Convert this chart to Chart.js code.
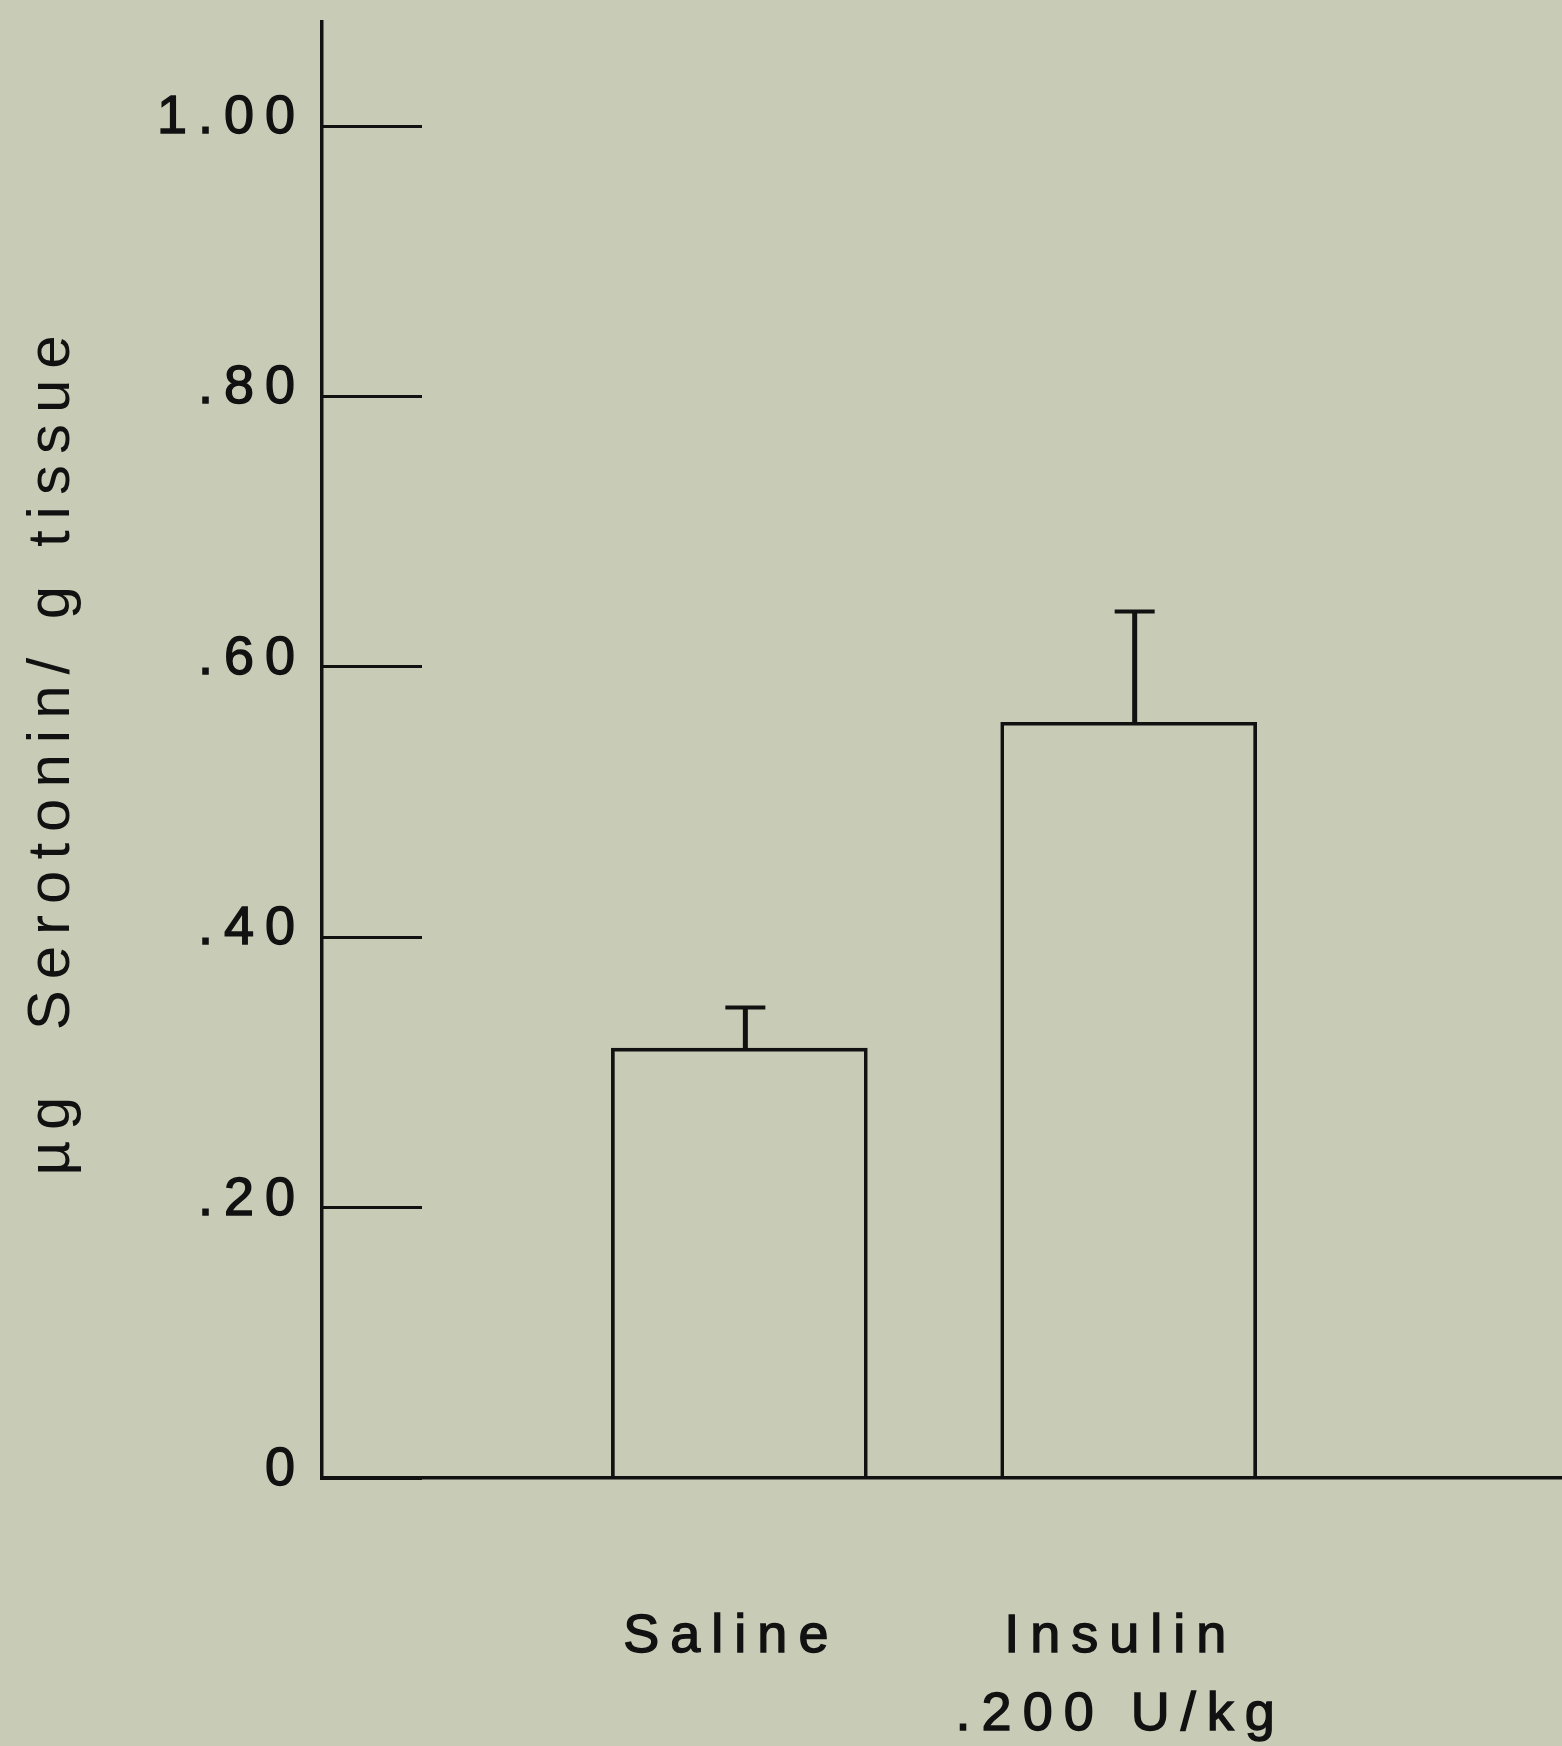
<!DOCTYPE html>
<html>
<head>
<meta charset="utf-8">
<title>Serotonin - Saline vs Insulin</title>
<script src="https://cdn.jsdelivr.net/npm/chart.js@4/dist/chart.umd.min.js"></script>
<style>
  html, body { margin: 0; padding: 0; background: #c8ccb6; }
  canvas { display: block; }
</style>
</head>
<body>
<canvas id="serotoninChart" width="1562" height="1746"></canvas>
<script>
// Dados
const groups = ['Saline', 'Insulin'];
const groupSubLabels = ['', '.200 U/kg'];
const groupPositions = [1, 2];
const meanValues = [0.318, 0.559];
const semValues = [0.030, 0.082];
const yTickValues = [0, 0.2, 0.4, 0.6, 0.8, 1.0];
const yTickLabels = ['0', '.20', '.40', '.60', '.80', '1.00'];
const yTitle = 'µg  Serotonin/ g tissue';

const ink = '#111111';
const fontFamily = "'Liberation Sans', Arial, Helvetica, sans-serif";

// espaçamento entre letras, como no original
const letterSpacingPlugin = {
  id: 'letterSpacing',
  beforeUpdate(chart) { chart.ctx.letterSpacing = '11px'; },
  beforeDraw(chart) { chart.ctx.letterSpacing = '11px'; }
};

// barras de erro (só para cima)
const errorBarPlugin = {
  id: 'errorBars',
  afterDatasetsDraw(chart) {
    const ctx = chart.ctx;
    const yScale = chart.scales.y;
    const meta = chart.getDatasetMeta(0);
    ctx.save();
    ctx.strokeStyle = ink;
    meta.data.forEach((bar, i) => {
      const yBar = yScale.getPixelForValue(meanValues[i]);
      const yTop = yScale.getPixelForValue(meanValues[i] + semValues[i]);
      ctx.lineWidth = 5;
      ctx.beginPath();
      ctx.moveTo(bar.x + 6, yBar);
      ctx.lineTo(bar.x + 6, yTop);
      ctx.stroke();
      ctx.lineWidth = 4;
      ctx.beginPath();
      ctx.moveTo(bar.x + 6 - 20, yTop);
      ctx.lineTo(bar.x + 6 + 20, yTop);
      ctx.stroke();
    });
    ctx.restore();
  }
};

function renderChart() {
  const ctx = document.getElementById('serotoninChart');

  new Chart(ctx, {
    type: 'bar',
    data: {
      datasets: [{
        data: groupPositions.map((x, i) => ({ x: x, y: meanValues[i] })),
        backgroundColor: 'rgba(0, 0, 0, 0)',
        borderColor: ink,
        borderWidth: 3,
        borderSkipped: 'bottom',
        barThickness: 256
      }]
    },
    options: {
      responsive: false,
      animation: false,
      devicePixelRatio: 1,
      layout: {
        padding: { top: 22, right: 0, bottom: 0, left: 0 }
      },
      plugins: {
        legend: { display: false },
        tooltip: { enabled: false }
      },
      scales: {
        x: {
          type: 'linear',
          offset: false,
          min: -0.072,
          max: 3.113,
          grid: { display: false },
          border: { display: true, color: ink, width: 3.5 },
          afterBuildTicks: (scale) => {
            scale.ticks = groupPositions.map(v => ({ value: v }));
          },
          ticks: {
            padding: 112,
            labelOffset: -8,
            color: ink,
            textStrokeColor: ink,
            textStrokeWidth: 1.4,
            font: { family: fontFamily, size: 54, lineHeight: 1.45 },
            callback: (value, index) => groupSubLabels[index]
              ? [groups[index], groupSubLabels[index]]
              : groups[index]
          },
          afterFit: (scale) => {
            scale.height = 268;
            scale.paddingLeft = 0;
            scale.paddingRight = 0;
          }
        },
        y: {
          min: 0,
          max: 1.077,
          border: { display: true, color: ink, width: 3.5 },
          grid: {
            drawOnChartArea: false,
            drawTicks: true,
            tickLength: -100,
            tickWidth: 3,
            tickColor: ink
          },
          afterBuildTicks: (scale) => {
            scale.ticks = yTickValues.map(v => ({ value: v }));
          },
          ticks: {
            padding: 116,
            labelOffset: -8,
            color: ink,
            textStrokeColor: ink,
            textStrokeWidth: 1.4,
            font: { family: fontFamily, size: 54 },
            callback: (value, index) => yTickLabels[index]
          },
          title: {
            display: true,
            text: yTitle,
            color: ink,
            font: { family: fontFamily, size: 60 },
            padding: { top: 16, bottom: 0 }
          },
          afterFit: (scale) => {
            scale.width = 322;
            scale.paddingTop = 0;
            scale.paddingBottom = 0;
          }
        }
      }
    },
    plugins: [letterSpacingPlugin, errorBarPlugin]
  });
}

document.addEventListener('DOMContentLoaded', renderChart);
</script>
</body>
</html>
